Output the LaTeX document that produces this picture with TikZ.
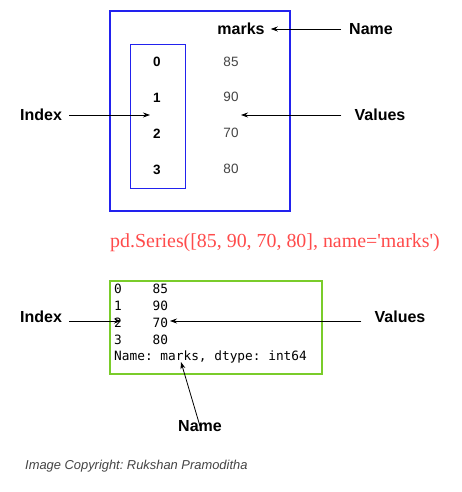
\documentclass[tikz,border=0pt]{standalone}
\usepackage{fontspec}
\setmainfont{Liberation Sans}
\newfontfamily\timesf{Liberation Serif}
\newfontfamily\monof{DejaVu Sans Mono}
\usetikzlibrary{arrows.meta}
\definecolor{bxblue}{HTML}{2222EE}
\definecolor{bxgreen}{HTML}{7ACC2A}
\definecolor{redtxt}{HTML}{FF4B4B}
\definecolor{valgray}{HTML}{444444}
\frenchspacing
\begin{document}
\begin{tikzpicture}[x=1pt,y=-1pt,
  lbl/.style={font=\fontsize{16}{18}\selectfont\bfseries, inner sep=0pt},
  idx/.style={font=\fontsize{13.5}{15}\selectfont\bfseries, inner sep=0pt},
  val/.style={font=\fontsize{13.5}{15}\selectfont, text=valgray, inner sep=0pt},
  mono/.style={font=\monof\fontsize{12.8}{14}\selectfont, anchor=west, inner sep=0pt},
  arr/.style={-{Stealth[length=7pt,width=5pt]}, line width=0.8pt}]
\useasboundingbox[fill=white] (0,0) rectangle (461,492);
% top table
\draw[bxblue, line width=2pt] (110,11) rectangle (290,211);
\draw[bxblue, line width=0.8pt] (130,44) rectangle (185,188);
\node[idx] (i0) at (157,62) {0};
\node[idx] (i1) at (157,98) {1};
\node[idx] (i2) at (157,134) {2};
\node[idx] (i3) at (157,170) {3};
\node[val] (v0) at (231,62) {85};
\node[val] (v1) at (231,97) {90};
\node[val] (v2) at (231,133) {70};
\node[val] (v3) at (231,169) {80};
\node[lbl] (marks) at (241,29) {marks};
\node[lbl] (nameT) at (371,29) {Name};
\node[lbl] (indexT) at (41,115) {Index};
\node[lbl] (valuesT) at (380,115) {Values};
\coordinate (iT) at (150,115);
\coordinate (vT) at (241,115);
\draw[arr] ([xshift=-8pt]nameT.west) -- ([xshift=6pt]marks.east);
\draw[arr] ([xshift=7pt]indexT.east) -- (iT);
\draw[arr] ([xshift=-13pt]valuesT.west) -- (vT);
% code
\node[font=\timesf\fontsize{19.9}{22}\selectfont, text=redtxt, inner sep=0pt] (code) at (275,243) {pd.Series([85, 90, 70, 80], name='marks')};
% bottom box
\draw[bxgreen, line width=2pt] (110,281) rectangle (322,374);
\node[mono] (l0) at (114,289) {0\ \ \ \ 85};
\node[mono] (l1) at (114,306) {1\ \ \ \ 90};
\node[mono] (l2) at (114,323) {2\ \ \ \ 70};
\node[mono] (l3) at (114,340) {3\ \ \ \ 80};
\node[mono] (l4) at (114,357) {Name: marks, dtype: int64};
\node[lbl] (indexB) at (41,317) {Index};
\node[lbl] (valuesB) at (400,317) {Values};
\node[lbl] (nameB) at (200,426) {Name};
\coordinate (iB) at (121,321);
\coordinate (vB) at (170,321);
\coordinate (nB) at (181,362);
\draw[arr] ([xshift=7pt]indexB.east |- iB) -- (iB);
\draw[arr] ([xshift=-13pt]valuesB.west |- vB) -- (vB);
\draw[arr] ([yshift=-6pt]nameB.north) -- (nB);
% copyright
\node[font=\fontsize{12.9}{14}\selectfont\itshape, text=valgray, anchor=west, inner sep=0pt] (copy) at (25,466) {Image Copyright: Rukshan Pramoditha};
\end{tikzpicture}
\end{document}
